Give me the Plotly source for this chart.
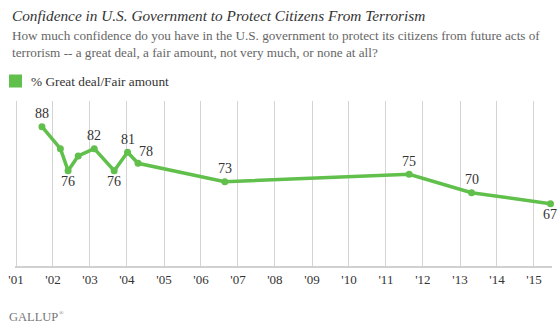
import plotly.graph_objects as go

dates = ["2001-09-14", "2002-03-15", "2002-05-30", "2002-09-07", "2003-02-12",
         "2003-08-28", "2004-01-07", "2004-04-20", "2006-08-24", "2011-08-18",
         "2013-04-25", "2015-06-13"]
values = [88, 82, 76, 80, 82, 76, 81, 78, 73, 75, 70, 67]
shown = [True, False, True, False, True, True, True, True, True, True, True, True]
label_pos = ["above", "", "below", "", "above", "below", "above", "right", "above", "above", "above", "below"]
tick_years = list(range(2001, 2016))
tick_text = ["'%02d" % (y % 100) for y in tick_years]

GREEN = "#61BF4C"
SERIF = "Liberation Serif, Georgia, serif"

fig = go.Figure()
fig.add_trace(go.Scatter(
    x=dates, y=values, mode="lines+markers",
    line=dict(color=GREEN, width=3.5),
    marker=dict(color=GREEN, size=7),
    hoverinfo="skip", showlegend=False, cliponaxis=False,
))

anns = []
for d, v, s, p in zip(dates, values, shown, label_pos):
    if not s:
        continue
    if p == "above":
        xs, ys = 0, 13
    elif p == "below":
        xs, ys = 0, -11
    else:
        xs, ys = 8, 12
    anns.append(dict(x=d, y=v, xref="x", yref="y", text=str(v), showarrow=False,
                     xshift=xs, yshift=ys, font=dict(family=SERIF, size=14, color="#333333")))

anns += [
    dict(x=10, y=15, text="<i>Confidence in U.S. Government to Protect Citizens From Terrorism</i>",
         showarrow=False, xanchor="left", yanchor="middle", font=dict(family=SERIF, size=15.3, color="#333333")),
    dict(x=10, y=36, text="How much confidence do you have in the U.S. government to protect its citizens from future acts of",
         showarrow=False, xanchor="left", yanchor="middle", font=dict(family=SERIF, size=13.2, color="#666666")),
    dict(x=10, y=53, text="terrorism -- a great deal, a fair amount, not very much, or none at all?",
         showarrow=False, xanchor="left", yanchor="middle", font=dict(family=SERIF, size=13.2, color="#666666")),
    dict(x=29, y=81, text="% Great deal/Fair amount",
         showarrow=False, xanchor="left", yanchor="middle", font=dict(family=SERIF, size=13.3, color="#333333")),
    dict(x=7, y=317, text="GALLUP",
         showarrow=False, xanchor="left", yanchor="middle", font=dict(family=SERIF, size=12.5, color="#777777")),
    dict(x=56.5, y=313, text="®",
         showarrow=False, xanchor="left", yanchor="middle", font=dict(family=SERIF, size=6, color="#777777")),
]

# convert pixel-positioned text annotations to paper coords
W, H = 559, 327
ML, MR, MT, MB = 15, 7, 101, 61
pw, ph = W - ML - MR, H - MT - MB
for a in anns:
    if a.get("xref") == "x":
        continue
    px, py = a["x"], a["y"]
    a["xref"] = "paper"
    a["yref"] = "paper"
    a["x"] = (px - ML) / pw
    a["y"] = 1 - (py - MT) / ph

fig.update_layout(
    width=W, height=H,
    margin=dict(l=ML, r=MR, t=MT, b=MB, pad=0),
    paper_bgcolor="white", plot_bgcolor="white",
    annotations=anns,
    shapes=[dict(type="rect", xref="paper", yref="paper",
                 x0=(9 - ML) / pw, x1=(22 - ML) / pw,
                 y0=1 - (87.5 - MT) / ph, y1=1 - (74.5 - MT) / ph,
                 fillcolor=GREEN, line=dict(width=0))],
    xaxis=dict(
        type="date", range=["2000-12-22", "2015-06-28"],
        tickvals=["%d-01-01" % y for y in tick_years], ticktext=tick_text,
        showgrid=True, gridcolor="#d4d4d4", gridwidth=1,
        showline=True, linecolor="#d0d0d0", linewidth=2,
        ticks="", ticklen=0,
        tickfont=dict(family=SERIF, size=13, color="#333333"),
        zeroline=False,
    ),
    yaxis=dict(range=[50, 95], visible=False, showgrid=False, zeroline=False),
    font=dict(family=SERIF),
)

fig.write_html("out.html")
